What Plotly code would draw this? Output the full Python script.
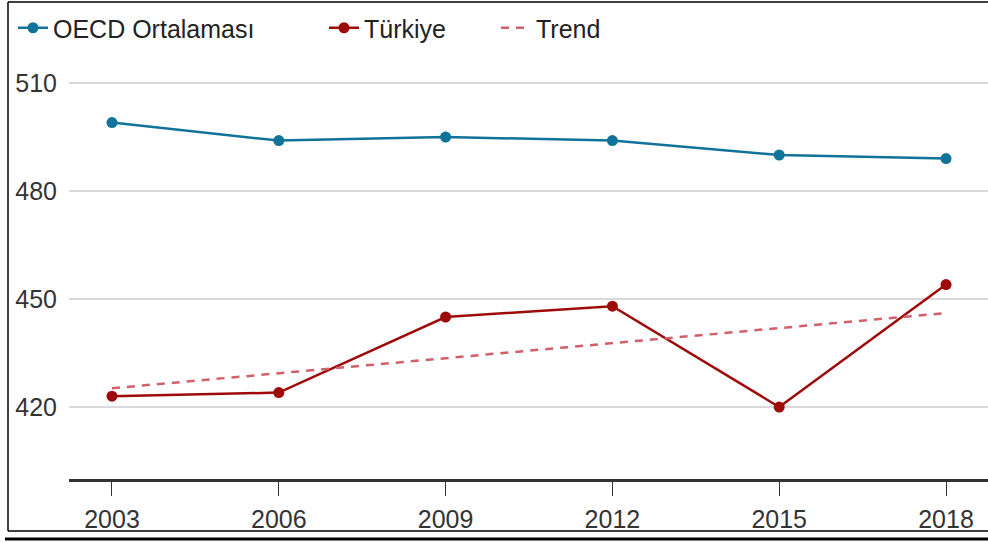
import plotly.graph_objects as go

years = [2003, 2006, 2009, 2012, 2015, 2018]
oecd = [499, 494, 495, 494, 490, 489]
turkiye = [423, 424, 445, 448, 420, 454]
trend = [425.2, 429.4, 433.6, 437.7, 441.9, 446.1]
y_ticks = [420, 450, 480, 510]
names = ["OECD Ortalaması", "Türkiye", "Trend"]

FONT = "Liberation Sans"
W, H = 988, 543
L, R, T, B = 69, 0, 65, 64

fig = go.Figure()
fig.add_trace(go.Scatter(x=years, y=oecd, name=names[0], mode="lines+markers",
                         line=dict(color="#10739a", width=2.5),
                         marker=dict(size=11, color="#10739a"), legend="legend"))
fig.add_trace(go.Scatter(x=years, y=turkiye, name=names[1], mode="lines+markers",
                         line=dict(color="#9e0a0a", width=2.5),
                         marker=dict(size=11, color="#9e0a0a"), legend="legend2"))
fig.add_trace(go.Scatter(x=years, y=trend, name=names[2], mode="lines",
                         line=dict(color="#d0606a", width=2.5, dash="8px,7px"),
                         legend="legend3"))

pw = W - L - R
ph = H - T - B
def px_x(p):
    return (p - L) / pw
def px_y(p):
    return (H - B - p) / ph

leg_common = dict(orientation="h", xref="container", yref="container",
                  yanchor="middle", y=1 - 28 / H, xanchor="left",
                  font=dict(family=FONT, size=25, color="#222222"),
                  bgcolor="rgba(0,0,0,0)", borderwidth=0)

fig.update_layout(
    width=W, height=H,
    margin=dict(l=L, r=R, t=T, b=B, pad=0),
    paper_bgcolor="white", plot_bgcolor="white",
    font=dict(family=FONT, size=25, color="#333333"),
    showlegend=True,
    legend=dict(x=13 / W, **leg_common),
    legend2=dict(x=324 / W, **leg_common),
    legend3=dict(x=496 / W, **leg_common),
    xaxis=dict(range=[2002.227, 2018.755], tickvals=years,
               ticktext=[str(y) for y in years],
               showgrid=False, zeroline=False,
               showline=True, linecolor="#333333", linewidth=2.5,
               ticks="outside", ticklen=14, tickwidth=1.2, tickcolor="#333333",
               tickfont=dict(family=FONT, size=25, color="#333333"),
               ticklabelstandoff=2),
    yaxis=dict(range=[400, 515], tickvals=y_ticks,
               ticktext=[str(v) for v in y_ticks],
               showgrid=True, gridcolor="#d9d9d9", gridwidth=1.5,
               zeroline=False, showline=False, ticks="",
               tickfont=dict(family=FONT, size=25, color="#333333"),
               ticklabelstandoff=11),
    shapes=[
        dict(type="line", xref="paper", yref="paper", x0=px_x(8), x1=px_x(8),
             y0=px_y(2), y1=px_y(531), line=dict(color="black", width=1.5)),
        dict(type="line", xref="paper", yref="paper", x0=px_x(8), x1=px_x(990),
             y0=px_y(2), y1=px_y(2), line=dict(color="black", width=1.5)),
        dict(type="line", xref="paper", yref="paper", x0=px_x(8), x1=px_x(990),
             y0=px_y(531), y1=px_y(531), line=dict(color="black", width=1.5)),
        dict(type="line", xref="paper", yref="paper", x0=px_x(5), x1=px_x(990),
             y0=px_y(539), y1=px_y(539), line=dict(color="black", width=3)),
    ],
)

fig.write_html("out.html")
